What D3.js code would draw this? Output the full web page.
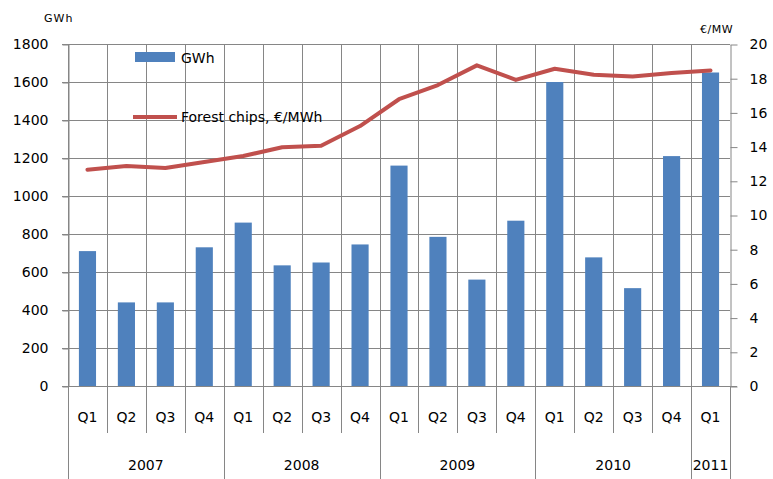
<!DOCTYPE html>
<style>
body { margin: 0; background: #fff; }
text { font-family: "DejaVu Sans", Verdana, sans-serif; fill: #000; }
.axis path, .axis line { stroke: #868686; }
</style>
<svg width="773" height="479"></svg>
<script src="https://d3js.org/d3.v7.min.js"></script>
<script>

var quarters = ["Q1","Q2","Q3","Q4","Q1","Q2","Q3","Q4","Q1","Q2","Q3","Q4","Q1","Q2","Q3","Q4","Q1"];
var years = ["2007","2007","2007","2007","2008","2008","2008","2008","2009","2009","2009","2009","2010","2010","2010","2010","2011"];
var gwh = [710, 440, 440, 730, 860, 635, 650, 745, 1160, 785, 560, 870, 1600, 677, 515, 1210, 1650];
var price = [12.65, 12.87, 12.75, 13.1, 13.45, 13.96, 14.05, 15.2, 16.77, 17.6, 18.75, 17.9, 18.55, 18.2, 18.1, 18.3, 18.45];
var leftTicks = [0,200,400,600,800,1000,1200,1400,1600,1800];
var rightTicks = [0,2,4,6,8,10,12,14,16,18,20];

var svg = d3.select("svg"),
    margin = {top: 44, right: 43, bottom: 93, left: 68},
    width = +svg.attr("width") - margin.left - margin.right,
    height = +svg.attr("height") - margin.top - margin.bottom;

var idx = d3.range(quarters.length);

var x = d3.scaleBand()
    .domain(idx)
    .range([margin.left, margin.left + width])
    .paddingInner(0.56)
    .paddingOuter(0.28);

var y0 = d3.scaleLinear().domain([0, 1800]).range([margin.top + height, margin.top]);
var y1 = d3.scaleLinear().domain([0, 20]).range([margin.top + height, margin.top]);

var step = x.step(),
    edge = function(i) { return x(i) - step * x.paddingInner() / 2; };

// grid
var grid = svg.append("g").attr("stroke", "#868686").attr("stroke-width", 1);
grid.selectAll(".h")
    .data(leftTicks.filter(function(d) { return d > 0; }))
  .enter().append("line")
    .attr("x1", margin.left - 6)
    .attr("x2", margin.left + width)
    .attr("y1", function(d) { return Math.round(y0(d)) + 0.5; })
    .attr("y2", function(d) { return Math.round(y0(d)) + 0.5; });
grid.selectAll(".v")
    .data(idx)
  .enter().append("line")
    .attr("x1", function(i) { return Math.round(edge(i)) + 0.5; })
    .attr("x2", function(i) { return Math.round(edge(i)) + 0.5; })
    .attr("y1", margin.top)
    .attr("y2", margin.top + height);

// left axis
var yAxisLeft = d3.axisLeft(y0).tickValues(leftTicks).tickFormat(d3.format("d"))
    .tickSize(6).tickSizeOuter(0).tickPadding(14);
svg.append("g")
    .attr("class", "axis")
    .attr("transform", "translate(" + (margin.left + 0.5) + ",0.5)")
    .call(yAxisLeft)
    .call(function(g) { g.selectAll("text").style("font-size", "14px"); });

// right axis
var yAxisRight = d3.axisRight(y1).tickValues(rightTicks).tickFormat(d3.format("d"))
    .tickSize(7).tickSizeOuter(0).tickPadding(12);
svg.append("g")
    .attr("class", "axis")
    .attr("transform", "translate(" + (margin.left + width + 0.5) + ",0.5)")
    .call(yAxisRight)
    .call(function(g) { g.selectAll("text").style("font-size", "14px"); });

// bars
svg.append("g")
    .attr("fill", "#4f81bd")
  .selectAll("rect")
    .data(gwh)
  .enter().append("rect")
    .attr("x", function(d, i) { return x(i); })
    .attr("y", function(d) { return y0(d); })
    .attr("width", x.bandwidth())
    .attr("height", function(d) { return y0(0) - y0(d); });

// line
var line = d3.line()
    .x(function(d, i) { return x(i) + x.bandwidth() / 2; })
    .y(function(d) { return y1(d); });

svg.append("path")
    .datum(price)
    .attr("fill", "none")
    .attr("stroke", "#c0504d")
    .attr("stroke-width", 4)
    .attr("stroke-linejoin", "round")
    .attr("stroke-linecap", "round")
    .attr("d", line);

// category axis
var base = Math.round(y0(0)) + 0.5;
var cat = svg.append("g").attr("stroke", "#868686");
cat.append("line")
    .attr("x1", margin.left - 6).attr("x2", margin.left + width + 7)
    .attr("y1", base).attr("y2", base);
cat.selectAll(".qsep")
    .data(idx.concat([quarters.length]))
  .enter().append("line")
    .attr("x1", function(i) { return Math.round(i < quarters.length ? edge(i) : margin.left + width) + 0.5; })
    .attr("x2", function(i) { return Math.round(i < quarters.length ? edge(i) : margin.left + width) + 0.5; })
    .attr("y1", base)
    .attr("y2", function(i) {
      var yr = i === 0 || i === quarters.length || years[i] !== years[i - 1];
      return yr ? 479 : 433;
    });

svg.append("g").selectAll("text")
    .data(quarters)
  .enter().append("text")
    .attr("x", function(d, i) { return x(i) + x.bandwidth() / 2; })
    .attr("y", 422)
    .attr("text-anchor", "middle")
    .style("font-size", "14px")
    .text(function(d) { return d; });

var yearGroups = d3.groups(idx, function(i) { return years[i]; });
svg.append("g").selectAll("text")
    .data(yearGroups)
  .enter().append("text")
    .attr("x", function(g) {
      var a = edge(g[1][0]), l = g[1][g[1].length - 1];
      var b = l + 1 < quarters.length ? edge(l + 1) : margin.left + width;
      return (a + b) / 2;
    })
    .attr("y", 470)
    .attr("text-anchor", "middle")
    .style("font-size", "14px")
    .text(function(g) { return g[0]; });

// axis titles
svg.append("text").attr("x", 44).attr("y", 22).style("font-size", "11px").attr("letter-spacing", "1px").text("GWh");
svg.append("text").attr("x", 700).attr("y", 33).style("font-size", "11px").attr("letter-spacing", "0.5px").text("€/MW");

// legend
var legend = svg.append("g");
legend.append("rect").attr("x", 135).attr("y", 52).attr("width", 40).attr("height", 10).attr("fill", "#4f81bd");
legend.append("text").attr("x", 181).attr("y", 63).style("font-size", "14px").text("GWh");
legend.append("line").attr("x1", 133).attr("x2", 177).attr("y1", 117).attr("y2", 117)
    .attr("stroke", "#c0504d").attr("stroke-width", 4);
legend.append("text").attr("x", 181).attr("y", 122).style("font-size", "14px").text("Forest chips, €/MWh");

</script>
